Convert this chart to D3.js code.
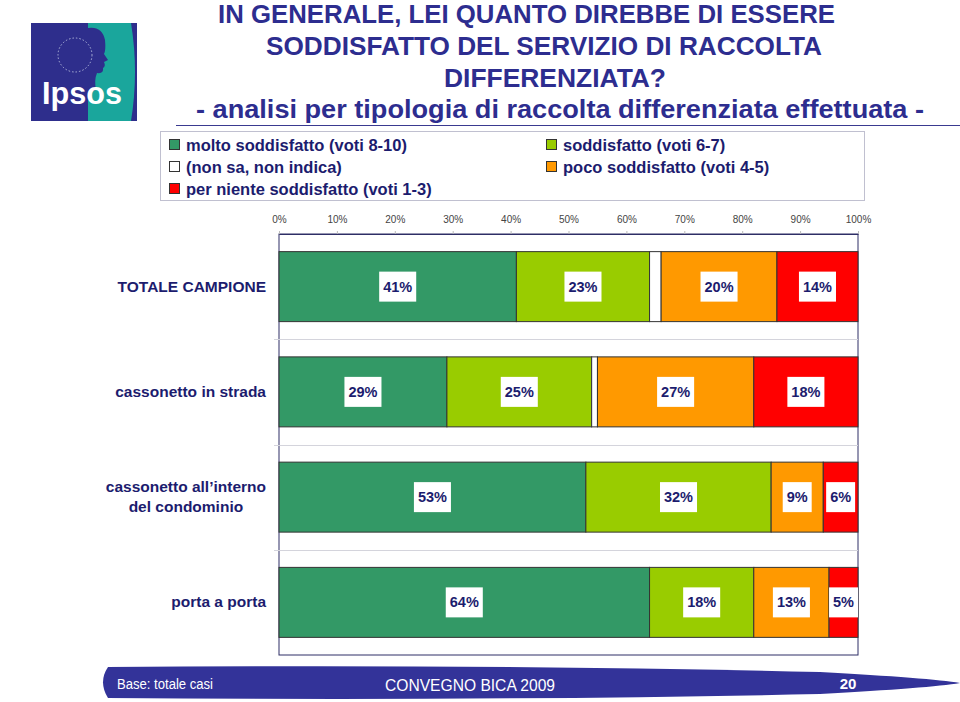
<!DOCTYPE html>
<html><head><meta charset="utf-8">
<script src="https://cdn.jsdelivr.net/npm/d3@7"></script>
<style>
html,body{margin:0;padding:0;background:#fff;}
svg{display:block;font-family:"Liberation Sans",Arial,sans-serif;}
</style></head>
<body>
<svg id="chart" width="960" height="702"></svg>
<script>
// ---- data ----
const categories = ["TOTALE CAMPIONE", "cassonetto in strada", "cassonetto all\u2019interno del condominio", "porta a porta"];
const categoryLines = [["TOTALE CAMPIONE"], ["cassonetto in strada"], ["cassonetto all\u2019interno", "del condominio"], ["porta a porta"]];
const seriesNames = ["molto soddisfatto (voti 8-10)", "soddisfatto (voti 6-7)", "(non sa, non indica)", "poco soddisfatto (voti 4-5)", "per niente soddisfatto (voti 1-3)"];
const molto   = [41, 29, 53, 64];
const sodd    = [23, 25, 32, 18];
const nonSa   = [2, 1, 0, 0];
const poco    = [20, 27, 9, 13];
const niente  = [14, 18, 6, 5];
const tickValues = [0, 10, 20, 30, 40, 50, 60, 70, 80, 90, 100];
const titleLines = ["IN GENERALE, LEI QUANTO DIREBBE DI ESSERE", "SODDISFATTO DEL SERVIZIO DI RACCOLTA", "DIFFERENZIATA?"];
const subtitle = "- analisi per tipologia di raccolta differenziata effettuata -";
const footerLeft = "Base: totale casi", footerCenter = "CONVEGNO BICA 2009", footerPage = "20";

const colors = ["#339966", "#99cc00", "#ffffff", "#ff9900", "#ff0000"];
const showLabel = [true, true, false, true, true];
const navy = "#1c1c6e", titleBlue = "#2d2d8f";

const svg = d3.select("#chart");

// ---- logo ----
const logo = svg.append("g");
logo.append("rect").attr("x", 31).attr("y", 23).attr("width", 106).attr("height", 98).attr("fill", "#2e2e8c");
logo.append("path").attr("d", "M88,23 L131,23 Q139,72 131,121 L88,121 Z").attr("fill", "#1aa69c");
logo.append("path").attr("d", "M88,28 Q102,26 105,40 Q106,50 104,54 L108,60 L104,62 Q106,66 103,68 Q104,74 97,73 Q94,80 96,90 L88,92 Z").attr("fill", "#2e2e8c");
logo.append("circle").attr("cx", 75).attr("cy", 55).attr("r", 17).attr("fill", "none").attr("stroke", "#c8cfe8").attr("stroke-width", 1).attr("stroke-dasharray", "1.5,2").attr("opacity", 0.8);
logo.append("text").attr("x", 42).attr("y", 104).attr("fill", "#fff").attr("font-size", 31).attr("font-weight", "bold")
  .attr("textLength", 80).attr("lengthAdjust", "spacingAndGlyphs").text("Ipsos");

// ---- title ----
const titleSpec = [{x: 218, w: 617, y: 23}, {x: 266, w: 556, y: 55}, {x: 444, w: 222, y: 87}];
titleLines.forEach((t, i) => {
  svg.append("text").attr("x", titleSpec[i].x).attr("y", titleSpec[i].y)
    .attr("fill", titleBlue).attr("font-size", 26).attr("font-weight", "bold")
    .attr("textLength", titleSpec[i].w).attr("lengthAdjust", "spacingAndGlyphs").text(t);
});
svg.append("text").attr("x", 196).attr("y", 118).attr("fill", titleBlue).attr("font-size", 25).attr("font-weight", "bold")
  .attr("textLength", 728).attr("lengthAdjust", "spacingAndGlyphs").text(subtitle);
svg.append("line").attr("x1", 176).attr("x2", 960).attr("y1", 125.5).attr("y2", 125.5).attr("stroke", "#3a3a90").attr("stroke-width", 1);

// ---- legend ----
svg.append("rect").attr("x", 160.5).attr("y", 131.5).attr("width", 704).attr("height", 69).attr("fill", "#fff").attr("stroke", "#c0c0d0");
const legendPos = [[169, 145], [546, 145], [169, 167], [546, 167], [169, 189]];
seriesNames.forEach((s, i) => {
  const g = svg.append("g").attr("transform", `translate(${legendPos[i][0]},${legendPos[i][1]})`);
  g.append("rect").attr("x", 0.5).attr("y", -5.5).attr("width", 10).attr("height", 10).attr("fill", colors[i]).attr("stroke", "#333").attr("stroke-width", 1);
  g.append("text").attr("x", 17).attr("y", 6).attr("fill", navy).attr("font-size", 16.5).attr("font-weight", "bold").text(s);
});

// ---- chart ----
const x = d3.scaleLinear().domain([0, 100]).range([279, 858]);
const y = d3.scaleBand().domain(categories).range([234, 655]).paddingInner(0.335).paddingOuter(0.1675);
const bandStep = y.step();

const rows = categories.map((c, i) => ({cat: c, s0: molto[i], s1: sodd[i], s2: nonSa[i], s3: poco[i], s4: niente[i]}));
const keys = ["s0", "s1", "s2", "s3", "s4"];
const stacked = d3.stack().keys(keys)(rows);

// frame
svg.append("rect").attr("x", x(0)).attr("y", 234).attr("width", x(100) - x(0)).attr("height", 421)
  .attr("fill", "#fff").attr("stroke", "#2e2e66").attr("stroke-width", 1);
// category separators
categories.slice(1).forEach((c, i) => {
  const yy = Math.round(234 + bandStep * (i + 1)) + 0.5;
  svg.append("line").attr("x1", 274).attr("x2", x(100)).attr("y1", yy).attr("y2", yy).attr("stroke", "#d4d4dc").attr("stroke-width", 1);
});

// axis
const axis = svg.append("g").attr("transform", "translate(0,234)")
  .call(d3.axisTop(x).tickValues(tickValues).tickFormat(d => d + "%").tickSize(3).tickSizeOuter(0).tickPadding(8));
axis.select(".domain").attr("stroke", "#2e2e66");
axis.selectAll(".tick line").attr("stroke", "#bbb");
axis.selectAll(".tick text").attr("font-size", 10).attr("fill", "#444").attr("font-family", "Liberation Sans, Arial, sans-serif");

// bars
stacked.forEach((layer, si) => {
  const g = svg.append("g");
  g.selectAll("rect").data(layer.filter(d => d[1] > d[0])).join("rect")
    .attr("x", d => x(d[0])).attr("y", d => y(d.data.cat))
    .attr("width", d => x(d[1]) - x(d[0])).attr("height", y.bandwidth())
    .attr("fill", colors[si]).attr("stroke", "#333").attr("stroke-width", 1);
});
// labels
stacked.forEach((layer, si) => {
  if (!showLabel[si]) return;
  layer.forEach(d => {
    const v = d[1] - d[0];
    if (v <= 0) return;
    let cx = (x(d[0]) + x(d[1])) / 2;
    const cy = y(d.data.cat) + y.bandwidth() / 2;
    const g = svg.append("g");
    const t = g.append("text").attr("x", cx).attr("y", cy + 5).attr("text-anchor", "middle")
      .attr("fill", navy).attr("font-size", 14.5).attr("font-weight", "bold").text(v + "%");
    const w = t.node().getComputedTextLength() + 8;
    if (cx + w / 2 > x(100)) { cx = x(100) - w / 2; t.attr("x", cx); }
    g.insert("rect", "text").attr("x", cx - w / 2).attr("y", cy - 15).attr("width", w).attr("height", 30).attr("fill", "#fff");
  });
});

// category labels
categoryLines.forEach((lines, i) => {
  const cy = y(categories[i]) + y.bandwidth() / 2;
  const g = svg.append("g");
  const n = lines.length;
  const texts = lines.map((l, j) => g.append("text").attr("y", cy + 5 + (j - (n - 1) / 2) * 20)
    .attr("fill", navy).attr("font-size", 15.5).attr("font-weight", "bold").attr("text-anchor", "middle").text(l));
  const widths = texts.map(t => t.node().getComputedTextLength());
  const maxW = Math.max(...widths);
  texts.forEach(t => t.attr("x", 266 - maxW / 2));
});

// ---- footer ----
svg.append("path").attr("d", "M108,667 Q500,664 820,672 Q930,678 960,683 Q930,688 820,694 Q500,701 108,698 Q98,682 108,667 Z").attr("fill", "#333399");
svg.append("text").attr("x", 117).attr("y", 689).attr("fill", "#fff").attr("font-size", 14).attr("textLength", 96).attr("lengthAdjust", "spacingAndGlyphs").text(footerLeft);
svg.append("text").attr("x", 385).attr("y", 691).attr("fill", "#fff").attr("font-size", 17).attr("textLength", 170).attr("lengthAdjust", "spacingAndGlyphs").text(footerCenter);
svg.append("text").attr("x", 848).attr("y", 689).attr("text-anchor", "middle").attr("fill", "#fff").attr("font-size", 15).attr("font-weight", "bold").text(footerPage);
</script>
</body></html>
